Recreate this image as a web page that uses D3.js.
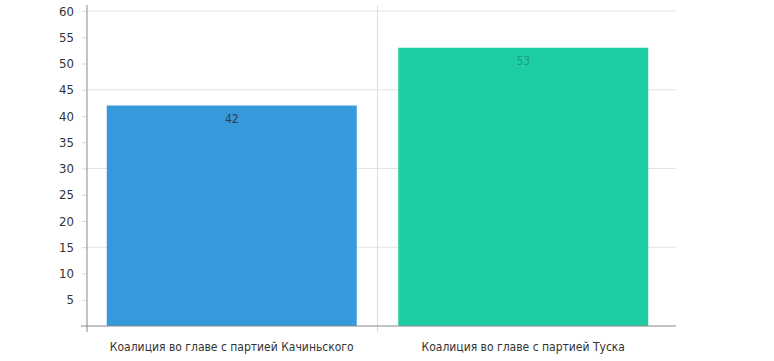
<!DOCTYPE html>
<html>
<head>
<meta charset="utf-8">
<script src="https://cdn.jsdelivr.net/npm/d3@7"></script>
<style>
  body { margin: 0; background: #fff; }
  text { font-family: "DejaVu Sans Condensed", "Roboto", sans-serif; }
</style>
</head>
<body>
<svg width="774" height="361"></svg>
<script>
var categories = ["Коалиция во главе с партией Качиньского", "Коалиция во главе с партией Туска"];
var values = [42, 53];
var barColors = ["#3699db", "#1fcda2"];
var labelColors = ["#2c3e50", "#16a085"];
var yTicks = [5, 10, 15, 20, 25, 30, 35, 40, 45, 50, 55, 60];
var gridTicks = [15, 30, 45, 60];

var svg = d3.select("svg");
var plotLeft = 87, plotRight = 676, plotTop = 11, plotBottom = 326;

var x = d3.scaleBand()
    .domain(categories)
    .range([86, 669])
    .paddingInner(0.1424)
    .paddingOuter(0.0712);

var y = d3.scaleLinear()
    .domain([0, 60])
    .range([plotBottom, plotTop]);

// horizontal grid
svg.append("g").selectAll("line")
  .data(gridTicks)
  .enter().append("line")
    .attr("x1", plotLeft).attr("x2", plotRight)
    .attr("y1", function(d) { return y(d); })
    .attr("y2", function(d) { return y(d); })
    .style("stroke", "#e3e3e3");

// vertical separator between categories
var sep = x(categories[1]) - x.step() * x.paddingInner() / 2;
svg.append("line")
    .attr("x1", sep).attr("x2", sep)
    .attr("y1", 5).attr("y2", plotBottom + 6)
    .style("stroke", "#dcdcdc");

// bars
svg.append("g").selectAll("rect")
  .data(values)
  .enter().append("rect")
    .attr("x", function(d, i) { return x(categories[i]); })
    .attr("y", function(d) { return y(d); })
    .attr("width", x.bandwidth())
    .attr("height", function(d) { return plotBottom - y(d); })
    .style("fill", function(d, i) { return barColors[i]; });

// value labels
svg.append("g").selectAll("text")
  .data(values)
  .enter().append("text")
    .attr("x", function(d, i) { return x(categories[i]) + x.bandwidth() / 2; })
    .attr("y", function(d) { return y(d) + 17; })
    .attr("text-anchor", "middle")
    .style("font-size", "12px")
    .style("fill", function(d, i) { return labelColors[i]; })
    .text(function(d) { return d; });

// y axis
var yAxis = svg.append("g")
    .attr("transform", "translate(" + plotLeft + ",0)")
    .call(d3.axisLeft(y).tickValues(yTicks).tickSize(5).tickPadding(8));
yAxis.select(".domain").remove();
yAxis.selectAll(".tick line").style("stroke", "#d6d6d6");
yAxis.selectAll(".tick text")
    .style("font-family", "\"DejaVu Sans Condensed\", sans-serif")
    .style("font-size", "13px").style("fill", "#333");
svg.append("line")
    .attr("x1", plotLeft).attr("x2", plotLeft)
    .attr("y1", 5).attr("y2", plotBottom + 6)
    .style("stroke", "#888");

// x axis
svg.append("line")
    .attr("x1", plotLeft - 6).attr("x2", plotRight)
    .attr("y1", plotBottom).attr("y2", plotBottom)
    .style("stroke", "#888");

svg.append("g").selectAll("text")
  .data(categories)
  .enter().append("text")
    .attr("x", function(d) { return x(d) + x.bandwidth() / 2; })
    .attr("y", 351)
    .attr("text-anchor", "middle")
    .style("font-size", "12px")
    .style("fill", "#333")
    .text(function(d) { return d; });
</script>
</body>
</html>
